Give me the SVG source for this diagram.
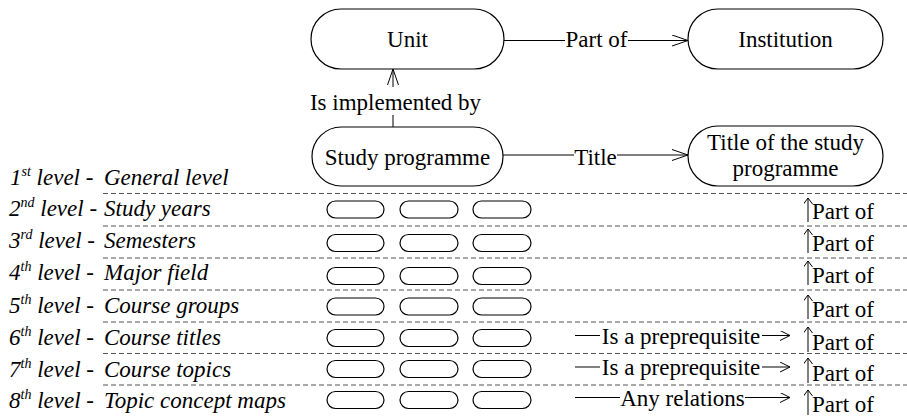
<svg xmlns="http://www.w3.org/2000/svg" width="907" height="419" viewBox="0 0 907 419">
<style>
  .t { font-family: 'Liberation Serif', serif; font-size: 23px; fill: #000; }
  .c { text-anchor: middle; }
  .it { font-style: italic; }
  .sup { font-size: 14px; }
  .node { fill: #fff; stroke: #000; stroke-width: 1.2; }
  .small { fill: #fff; stroke: #000; stroke-width: 1.2; }
  .edge { stroke: #000; stroke-width: 1; fill: none; }
  .dash { stroke: #555; stroke-width: 1.2; stroke-dasharray: 5 3; fill: none; }
</style>
<defs>
  <marker id="open" markerWidth="18" markerHeight="14" refX="16" refY="6" orient="auto" markerUnits="userSpaceOnUse">
    <polyline points="0,0.5 16,6 0,11.5" fill="none" stroke="#000" stroke-width="1"/>
  </marker>
  <marker id="openS" markerWidth="12" markerHeight="12" refX="10" refY="5" orient="auto" markerUnits="userSpaceOnUse">
    <polyline points="0,0 10,5 0,10" fill="none" stroke="#000" stroke-width="1"/>
  </marker>
  <marker id="up" markerWidth="10" markerHeight="10" refX="6" refY="4.5" orient="auto" markerUnits="userSpaceOnUse">
    <polyline points="0,0 6,4.5 0,9" fill="none" stroke="#000" stroke-width="1"/>
  </marker>
</defs>

<g id="separators">
  <line x1="103" y1="193.5" x2="907" y2="193.5" class="dash"/>
  <line x1="103" y1="226" x2="907" y2="226" class="dash"/>
  <line x1="103" y1="258" x2="907" y2="258" class="dash"/>
  <line x1="103" y1="290" x2="907" y2="290" class="dash"/>
  <line x1="103" y1="322" x2="907" y2="322" class="dash"/>
  <line x1="103" y1="353.5" x2="907" y2="353.5" class="dash"/>
  <line x1="103" y1="385" x2="907" y2="385" class="dash"/>
</g>

<g id="levels">
  <text font-family="Liberation Serif, serif" class="t it" x="10" y="185">1<tspan class="sup" dy="-9">st</tspan><tspan dy="9"> level -</tspan></text>
  <text font-family="Liberation Serif, serif" class="t it" x="104" y="185">General level</text>
  <text font-family="Liberation Serif, serif" class="t it" x="9" y="216">2<tspan class="sup" dy="-9">nd</tspan><tspan dy="9"> level -</tspan></text>
  <text font-family="Liberation Serif, serif" class="t it" x="104" y="216">Study years</text>
  <text font-family="Liberation Serif, serif" class="t it" x="9" y="248">3<tspan class="sup" dy="-9">rd</tspan><tspan dy="9"> level -</tspan></text>
  <text font-family="Liberation Serif, serif" class="t it" x="104" y="248">Semesters</text>
  <text font-family="Liberation Serif, serif" class="t it" x="9" y="280">4<tspan class="sup" dy="-9">th</tspan><tspan dy="9"> level -</tspan></text>
  <text font-family="Liberation Serif, serif" class="t it" x="104" y="280">Major field</text>
  <text font-family="Liberation Serif, serif" class="t it" x="9" y="313">5<tspan class="sup" dy="-9">th</tspan><tspan dy="9"> level -</tspan></text>
  <text font-family="Liberation Serif, serif" class="t it" x="104" y="313">Course groups</text>
  <text font-family="Liberation Serif, serif" class="t it" x="9" y="345">6<tspan class="sup" dy="-9">th</tspan><tspan dy="9"> level -</tspan></text>
  <text font-family="Liberation Serif, serif" class="t it" x="104" y="345">Course titles</text>
  <text font-family="Liberation Serif, serif" class="t it" x="9" y="377">7<tspan class="sup" dy="-9">th</tspan><tspan dy="9"> level -</tspan></text>
  <text font-family="Liberation Serif, serif" class="t it" x="104" y="377">Course topics</text>
  <text font-family="Liberation Serif, serif" class="t it" x="9" y="408">8<tspan class="sup" dy="-9">th</tspan><tspan dy="9"> level -</tspan></text>
  <text font-family="Liberation Serif, serif" class="t it" x="104" y="408">Topic concept maps</text>
</g>

<g id="unit">
  <rect x="311" y="9" width="193" height="60" rx="30" class="node"/>
  <text font-family="Liberation Serif, serif" class="t c" x="407.5" y="47">Unit</text>
</g>
<g id="institution">
  <rect x="688" y="9" width="195" height="60" rx="30" class="node"/>
  <text font-family="Liberation Serif, serif" class="t c" x="785.5" y="47">Institution</text>
</g>
<g id="study-programme">
  <rect x="312" y="127" width="191" height="59" rx="29.5" class="node"/>
  <text font-family="Liberation Serif, serif" class="t c" x="407.5" y="165">Study programme</text>
</g>
<g id="title-node">
  <rect x="688" y="126" width="195" height="60" rx="30" class="node"/>
  <text font-family="Liberation Serif, serif" class="t c" x="785.5" y="150">Title of the study</text>
  <text font-family="Liberation Serif, serif" class="t c" x="785.5" y="176">programme</text>
</g>

<g id="level2-nodes">
  <rect x="327" y="201" width="57" height="17" rx="8.5" class="small"/>
  <rect x="400" y="201" width="58" height="17" rx="8.5" class="small"/>
  <rect x="473" y="201" width="58" height="17" rx="8.5" class="small"/>
</g>
<g id="level3-nodes">
  <rect x="327" y="234.5" width="57" height="17" rx="8.5" class="small"/>
  <rect x="400" y="234.5" width="58" height="17" rx="8.5" class="small"/>
  <rect x="473" y="234.5" width="58" height="17" rx="8.5" class="small"/>
</g>
<g id="level4-nodes">
  <rect x="327" y="267.5" width="57" height="17" rx="8.5" class="small"/>
  <rect x="400" y="267.5" width="58" height="17" rx="8.5" class="small"/>
  <rect x="473" y="267.5" width="58" height="17" rx="8.5" class="small"/>
</g>
<g id="level5-nodes">
  <rect x="327" y="298" width="57" height="17" rx="8.5" class="small"/>
  <rect x="400" y="298" width="58" height="17" rx="8.5" class="small"/>
  <rect x="473" y="298" width="58" height="17" rx="8.5" class="small"/>
</g>
<g id="level6-nodes">
  <rect x="327" y="329.5" width="57" height="17" rx="8.5" class="small"/>
  <rect x="400" y="329.5" width="58" height="17" rx="8.5" class="small"/>
  <rect x="473" y="329.5" width="58" height="17" rx="8.5" class="small"/>
</g>
<g id="level7-nodes">
  <rect x="327" y="360.5" width="57" height="17" rx="8.5" class="small"/>
  <rect x="400" y="360.5" width="58" height="17" rx="8.5" class="small"/>
  <rect x="473" y="360.5" width="58" height="17" rx="8.5" class="small"/>
</g>
<g id="level8-nodes">
  <rect x="327" y="391.5" width="57" height="17" rx="8.5" class="small"/>
  <rect x="400" y="391.5" width="58" height="17" rx="8.5" class="small"/>
  <rect x="473" y="391.5" width="58" height="17" rx="8.5" class="small"/>
</g>

<g id="connectors">
  <line x1="504" y1="40.5" x2="565" y2="40.5" class="edge"/>
  <line x1="628" y1="40.5" x2="688" y2="40.5" class="edge" marker-end="url(#open)"/>
  <text font-family="Liberation Serif, serif" class="t c" x="596.5" y="47">Part of</text>

  <line x1="393" y1="127" x2="393" y2="115" class="edge"/>
  <line x1="393" y1="87" x2="393" y2="69" class="edge" marker-end="url(#open)"/>
  <text font-family="Liberation Serif, serif" class="t c" x="395.5" y="110">Is implemented by</text>

  <line x1="503" y1="155" x2="574" y2="155" class="edge"/>
  <line x1="617" y1="155" x2="688" y2="155" class="edge" marker-end="url(#open)"/>
  <text font-family="Liberation Serif, serif" class="t c" x="595.5" y="165">Title</text>

  <line x1="575" y1="335.5" x2="600" y2="335.5" class="edge"/>
  <line x1="762" y1="335.5" x2="790" y2="335.5" class="edge" marker-end="url(#openS)"/>
  <text font-family="Liberation Serif, serif" class="t c" x="681" y="344">Is a preprequisite</text>

  <line x1="575" y1="367" x2="600" y2="367" class="edge"/>
  <line x1="762" y1="367" x2="790" y2="367" class="edge" marker-end="url(#openS)"/>
  <text font-family="Liberation Serif, serif" class="t c" x="681" y="375">Is a preprequisite</text>

  <line x1="575" y1="397.5" x2="620" y2="397.5" class="edge"/>
  <line x1="745" y1="397.5" x2="790" y2="397.5" class="edge" marker-end="url(#openS)"/>
  <text font-family="Liberation Serif, serif" class="t c" x="682.5" y="406">Any relations</text>

  <line x1="808" y1="222" x2="808" y2="198" class="edge" marker-end="url(#up)"/>
  <text font-family="Liberation Serif, serif" class="t" x="812" y="219">Part of</text>
  <line x1="808" y1="253" x2="808" y2="229" class="edge" marker-end="url(#up)"/>
  <text font-family="Liberation Serif, serif" class="t" x="812" y="251">Part of</text>
  <line x1="808" y1="285" x2="808" y2="261" class="edge" marker-end="url(#up)"/>
  <text font-family="Liberation Serif, serif" class="t" x="812" y="283">Part of</text>
  <line x1="808" y1="319" x2="808" y2="295" class="edge" marker-end="url(#up)"/>
  <text font-family="Liberation Serif, serif" class="t" x="812" y="317">Part of</text>
  <line x1="808" y1="352" x2="808" y2="327" class="edge" marker-end="url(#up)"/>
  <text font-family="Liberation Serif, serif" class="t" x="812" y="350">Part of</text>
  <line x1="808" y1="383" x2="808" y2="358" class="edge" marker-end="url(#up)"/>
  <text font-family="Liberation Serif, serif" class="t" x="812" y="381">Part of</text>
  <line x1="808" y1="415" x2="808" y2="390" class="edge" marker-end="url(#up)"/>
  <text font-family="Liberation Serif, serif" class="t" x="812" y="412">Part of</text>
</g>
</svg>
